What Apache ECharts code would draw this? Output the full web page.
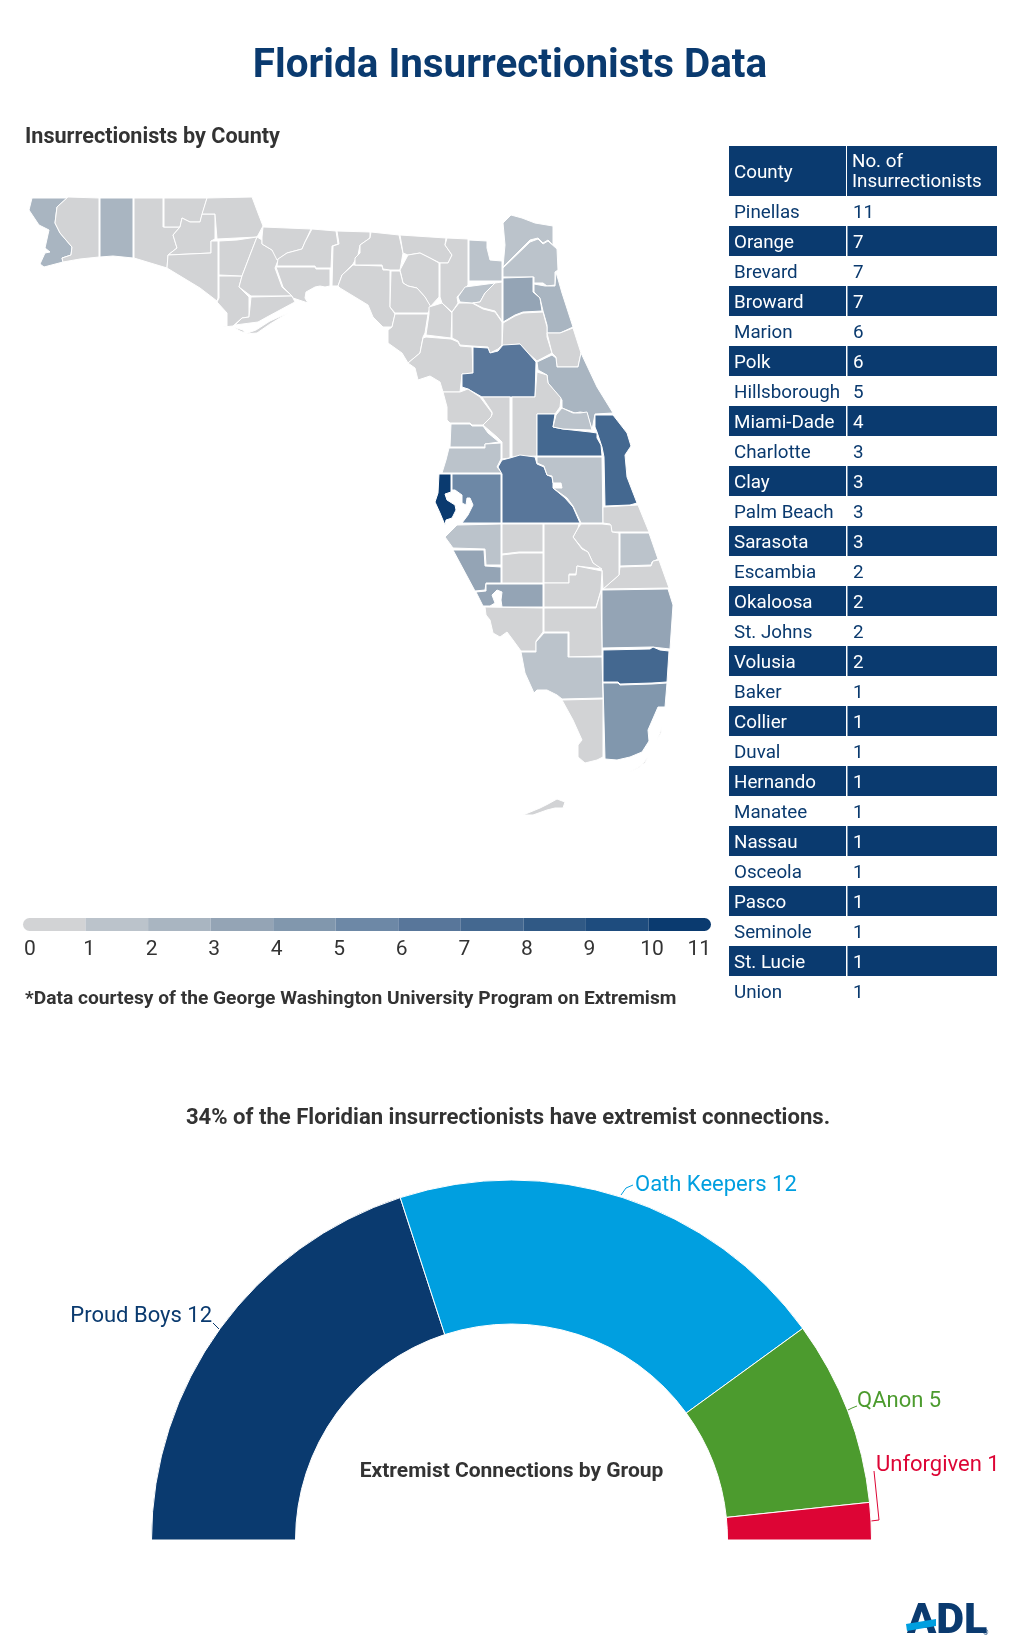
<!DOCTYPE html>
<html><head><meta charset="utf-8">
<style>html,body{margin:0;padding:0;background:#fff}#c{width:1020px;height:1650px}</style>
<script src="https://cdn.jsdelivr.net/npm/echarts@6/dist/echarts.min.js"></script></head>
<body><div id="c"></div>
<script>
const tableCounties=["Pinellas","Orange","Brevard","Broward","Marion","Polk","Hillsborough","Miami-Dade","Charlotte","Clay","Palm Beach","Sarasota","Escambia","Okaloosa","St. Johns","Volusia","Baker","Collier","Duval","Hernando","Manatee","Nassau","Osceola","Pasco","Seminole","St. Lucie","Union"];
const tableValues=[11,7,7,7,6,6,5,4,3,3,3,3,2,2,2,2,1,1,1,1,1,1,1,1,1,1,1];
const scaleTicks=[0,1,2,3,4,5,6,7,8,9,10,11];
const scaleColors=["#d2d3d5","#bbc3cb","#a9b5c1","#94a4b5","#8197ad","#6d88a6","#58769a","#446890","#305985","#1e4c7e","#0a3a6f"];
const groupNames=["Proud Boys","Oath Keepers","QAnon","Unforgiven"];
const groupValues=[12,12,5,1];
const groupColors=["#0a3a6f","#009fe0","#4c9b2e","#dd0535"];

// County outlines, TopoJSON style: integer coordinates + transform back to lon/lat.
const mapTransform={scale:[0.011806,-0.010373],translate:[-87.978,33.04]};
const countyShapes={
"Escambia":[[32,198,67,198,57,207,55,223,60,233,72,247,71,255,62,258,63,262,44,267,40,264,45,253,50,252,45,248,49,230,39,225,29,210]],
"Santa Rosa":[[68,197,99,198,99,257,80,259,63,262,62,258,71,255,72,247,60,233,55,223,57,207]],
"Okaloosa":[[100,198,133,198,133,258,113,256,100,257]],
"Walton":[[134,198,163,198,163,227,180,227,173,235,177,248,168,255,167,268,134,258]],
"Holmes":[[164,198,207,198,200,222,190,222,182,218,180,227,164,227]],
"Washington":[[182,218,190,222,200,222,202,214,215,214,215,239,211,241,211,253,168,255,177,248,173,235,180,227]],
"Jackson":[[207,198,252,197,258,213,263,226,257,237,237,238,217,239,215,214,202,214]],
"Bay":[[168,255,211,253,211,241,218,241,218,298,217,301,200,288,167,268]],
"Gulf":[[219,276,242,276,239,287,249,297,249,317,242,318,233,326,223,327,227,327,227,313,217,302,219,298],[233,327,243,330,245,333,240,331]],
"Calhoun":[[219,241,237,240,257,237,250,255,242,276,219,275]],
"Liberty":[[257,237,262,240,262,244,272,250,279,258,275,268,282,287,292,296,251,296,239,287,242,276,250,255]],
"Franklin":[[251,297,292,296,295,302,293,303,267,317,258,322,235,325,242,318,249,317],[288,313,270,324,257,333,245,334,256,330,270,321]],
"Gadsden":[[263,227,311,229,305,242,302,249,287,253,277,260,272,250,262,244,262,237]],
"Leon":[[312,229,336,231,338,244,332,246,331,268,316,268,315,266,277,266,278,259,287,253,302,249,305,242]],
"Wakulla":[[276,267,315,267,316,269,330,269,330,286,325,287,320,286,315,287,306,292,305,298,308,303,293,298,292,296,283,287]],
"Jefferson":[[337,231,370,232,370,238,360,245,358,255,353,264,342,275,338,286,332,286,333,246,339,244]],
"Taylor":[[353,265,382,266,383,270,390,270,390,307,395,314,392,327,383,327,373,317,368,305,340,288,338,286,342,275]],
"Madison":[[371,232,399,235,403,253,400,270,390,270,383,269,382,265,355,265,355,258,360,253,360,245,370,238]],
"Hamilton":[[400,235,446,238,445,245,452,255,448,263,440,263,430,258,420,253,408,255,403,253]],
"Suwannee":[[408,255,420,253,430,258,439,263,439,297,430,307,425,297,417,288,408,286,403,283,400,270]],
"Lafayette":[[391,271,400,271,403,283,408,286,417,288,425,297,431,307,428,313,395,313,390,307]],
"Dixie":[[395,314,428,314,425,333,423,337,420,353,408,363,402,353,388,343,388,330,392,327]],
"Columbia":[[447,238,468,239,468,285,457,297,458,303,452,312,442,303,440,297,440,263,448,263,452,255,445,245]],
"Gilchrist":[[442,303,452,313,451,338,426,335,429,314,429,307]],
"Levy":[[426,337,451,339,458,342,460,346,472,347,473,373,462,374,460,392,443,392,440,382,430,376,418,380,415,368,408,363,420,353,423,338]],
"Alachua":[[452,312,459,303,472,303,483,309,495,312,502,322,502,345,498,349,490,353,488,347,472,346,460,345,458,341,452,338]],
"Union":[[458,297,465,287,495,283,485,293,480,302,472,303,460,302]],
"Baker":[[469,240,487,241,487,248,490,260,502,261,502,281,469,281]],
"Bradford":[[495,283,502,282,502,321,495,311,483,308,473,303,480,302,485,293]],
"Nassau":[[503,223,511,215,522,218,535,223,553,226,553,245,548,240,543,243,538,238,530,240,503,267,505,245]],
"Duval":[[503,268,530,242,538,239,543,244,548,241,557,249,558,270,555,272,555,285,547,286,543,283,534,283,534,277,503,277]],
"Clay":[[503,278,533,277,533,292,540,298,542,311,523,312,515,315,503,322]],
"St. Johns":[[534,284,545,286,555,286,556,272,562,293,573,327,560,333,547,333,547,325,543,311,540,298,534,292]],
"Putnam":[[503,323,515,316,523,313,543,312,547,327,547,337,552,353,537,361,528,353,520,344,510,345,502,348]],
"Flagler":[[547,333,560,333,573,328,581,353,578,367,557,367,556,357,552,353]],
"Marion":[[473,347,488,348,490,353,498,351,503,345,520,344,528,353,536,362,535,397,482,397,468,389,462,387,462,374,473,373]],
"Volusia":[[537,362,552,355,556,358,557,367,578,367,581,353,597,387,613,413,595,414,592,430,587,413,580,412,575,413,562,408,562,400,548,383,547,375,538,370]],
"Lake":[[537,372,547,375,548,383,561,398,560,407,555,414,537,414,537,456,512,457,512,397,535,397]],
"Sumter":[[482,397,510,397,510,458,502,459,502,442,497,437,483,425,492,415,492,412]],
"Citrus":[[443,392,460,392,468,389,480,397,492,413,491,417,483,425,472,425,470,423,450,423,447,420,447,407]],
"Hernando":[[451,424,470,424,472,426,483,426,488,433,499,442,485,444,485,447,450,447]],
"Pasco":[[449,448,485,448,485,444,501,443,501,459,497,467,502,473,452,473,442,473,446,460]],
"Pinellas":[[439,474,451,474,451,492,445,494,447,500,455,505,456,510,452,518,446,520,445,525,440,513,435,502,438,493]],
"Hillsborough":[[452,474,501,474,501,523,462,523,468,515,473,505,470,498,467,498,466,505,462,503,462,495,455,490,452,490]],
"Polk":[[502,474,498,467,502,460,510,458,520,455,535,457,537,464,544,467,547,475,552,477,553,483,553,488,565,498,573,507,580,523,502,523]],
"Osceola":[[537,457,602,457,603,523,581,523,573,506,567,498,553,488,562,488,561,483,553,483,552,476,547,475,544,466,537,463]],
"Orange":[[537,414,555,414,553,427,563,429,590,432,597,433,597,438,601,445,602,456,537,456]],
"Seminole":[[556,415,562,408,573,413,580,413,587,412,592,430,563,429,553,427]],
"Brevard":[[595,415,613,415,627,433,631,446,625,455,627,477,637,503,630,505,605,506,604,457,602,447,599,438,597,432,595,427]],
"Indian River":[[603,507,638,505,649,532,612,532,610,524,603,523]],
"St. Lucie":[[620,533,649,533,658,559,652,562,651,565,620,566]],
"Martin":[[620,567,651,566,653,561,659,560,669,588,603,589,619,575]],
"Okeechobee":[[581,524,602,524,611,525,612,532,619,533,619,575,603,589,602,570,593,563,588,552,582,548,573,537,578,528]],
"Highlands":[[544,524,579,524,578,528,573,537,582,549,588,552,593,563,602,569,577,566,576,574,569,574,569,583,544,583]],
"Hardee":[[502,524,543,524,543,552,519,552,502,554]],
"DeSoto":[[502,555,519,553,543,553,543,583,502,583]],
"Manatee":[[445,537,457,525,501,524,501,565,486,565,485,549,453,548]],
"Sarasota":[[453,550,484,550,485,566,501,567,501,583,486,583,485,590,475,591]],
"Charlotte":[[476,592,486,591,486,584,543,584,543,607,502,607,501,600,502,592,497,590,492,595,495,603,490,606,483,606]],
"Glades":[[544,583,569,583,569,575,576,575,577,566,602,571,601,590,596,607,544,607]],
"Palm Beach":[[602,590,668,589,673,605,670,649,652,647,602,648]],
"Lee":[[485,607,543,608,543,632,536,641,536,651,521,651,513,640,507,632,500,637,493,633,490,620,486,615]],
"Hendry":[[544,608,596,608,601,591,602,648,602,656,569,657,569,632,544,632]],
"Collier":[[544,633,568,633,568,657,602,657,603,698,562,699,557,695,547,690,537,690,534,693,525,673,521,652,536,652,536,642]],
"Monroe":[[562,700,603,699,603,757,597,760,585,763,578,757,578,745,582,740,573,720],[523,815,540,808,548,804,557,799,565,802,563,808,555,808,547,810,533,815],[648,757,640,767,630,772,645,763],[662,727,657,740,661,733]],
"Miami-Dade":[[603,683,618,683,620,685,652,684,667,683,665,707,658,707,648,730,649,741,642,752,630,757,617,760,605,759]],
"Broward":[[603,650,650,649,653,647,660,650,669,651,667,682,652,683,620,684,618,682,603,682]]
};

const [sx,sy]=mapTransform.scale,[tx,ty]=mapTransform.translate;
const ring=a=>{const r=[];for(let i=0;i<a.length;i+=2)r.push([tx+a[i]*sx,ty+a[i+1]*sy]);r.push(r[0]);return r;};
const features=Object.keys(countyShapes).map(n=>({type:'Feature',properties:{name:n},geometry:{type:'MultiPolygon',coordinates:countyShapes[n].map(a=>[ring(a)])}}));
echarts.registerMap('florida',{type:'FeatureCollection',features});

const FONT='Roboto';
const NAVY='#0a3a6f',INK='#333333';
const lookup=Object.fromEntries(tableCounties.map((n,i)=>[n,tableValues[i]]));
const mapData=Object.keys(countyShapes).map(n=>({name:n,value:lookup[n]||0}));

const txt=(x,y,text,size,weight,color,align)=>({type:'text',x,y,silent:true,style:{text,font:`${weight} ${size}px ${FONT}`,fill:color,textAlign:align||'left',textVerticalAlign:'middle'}});

const labelSpots=[
 {x:212,y:1316,align:'right',line:[[220,1330],[215,1325],[213,1323]]},
 {x:635,y:1185,align:'left',line:[[621,1195],[626,1188],[633,1185]]},
 {x:857,y:1401,align:'left',line:[[848,1410],[852,1408],[857,1406]]},
 {x:876,y:1465,align:'left',line:[[871,1521],[879,1520],[874,1471]]}
];

const chart=echarts.init(document.getElementById('c'),null,{renderer:'canvas'});
const segSeries=scaleColors.map((c,i)=>({type:'bar',stack:'s',xAxisIndex:0,yAxisIndex:0,barWidth:13,silent:true,
  data:[scaleTicks[i+1]-scaleTicks[i]],
  itemStyle:{color:c,borderRadius:i===0?[6.5,0,0,6.5]:i===scaleColors.length-1?[0,6.5,6.5,0]:0}}));

chart.setOption({
 animation:false,
 backgroundColor:'#ffffff',
 visualMap:{show:false,type:'piecewise',seriesIndex:0,
  pieces:scaleColors.map((c,i)=>({min:i,max:i+0.99,color:c})).concat([{min:11,max:11,color:scaleColors[10]}])},
 title:{text:'Florida Insurrectionists Data',left:'center',top:42,textStyle:{fontFamily:FONT,fontWeight:700,fontSize:40.4,color:NAVY}},
 grid:[{left:23,top:914,width:688,height:21,containLabel:false},{left:729,top:196,width:268,height:810}],
 xAxis:[{type:'value',gridIndex:0,min:0,max:11,interval:1,axisLine:{show:false},axisTick:{show:false},splitLine:{show:false},
   axisLabel:{fontFamily:FONT,fontSize:21,color:INK,margin:4,alignMinLabel:'left',alignMaxLabel:'right',
    formatter:v=>(v===0||v===11)?`{e|${v}}`:`{m|${v}}`,
    rich:{e:{fontFamily:FONT,fontSize:21,color:INK,padding:[0,0,0,1]},m:{fontFamily:FONT,fontSize:21,color:INK,padding:[0,0,0,7]}}}},
  {type:'value',gridIndex:1,min:0,max:1,show:false}],
 yAxis:[{type:'category',gridIndex:0,data:['scale'],show:false},
  {type:'category',gridIndex:1,inverse:true,data:tableCounties,show:false}],
 series:[
  {type:'map',map:'florida',left:29,top:197,width:644,height:618,aspectScale:0.8786,silent:true,roam:false,
   label:{show:false},itemStyle:{borderColor:'#ffffff',borderWidth:1},emphasis:{disabled:true},select:{disabled:true},data:mapData},
  ...segSeries,
  {type:'custom',xAxisIndex:1,yAxisIndex:1,silent:true,clip:false,encode:{y:0,x:2},
   data:tableCounties.map((n,i)=>[n,tableValues[i],0]),
   renderItem(params,api){
    const i=params.dataIndex,cs=params.coordSys,h=api.size([0,1])[1];
    const top=api.coord([0,i])[1]-h/2,striped=i%2===1,split=117;
    const color=striped?'#ffffff':NAVY,kids=[];
    if(striped){kids.push({type:'rect',shape:{x:cs.x,y:top,width:split,height:h},style:{fill:NAVY}},
      {type:'rect',shape:{x:cs.x+split+1.5,y:top,width:cs.width-split-1.5,height:h},style:{fill:NAVY}});}
    kids.push({type:'text',x:cs.x+5,y:top+h/2+2,style:{text:tableCounties[i],font:`400 18.8px ${FONT}`,fill:color,textVerticalAlign:'middle'}},
      {type:'text',x:cs.x+124,y:top+h/2+2,style:{text:String(tableValues[i]),font:`400 18.8px ${FONT}`,fill:color,textVerticalAlign:'middle'}});
    return {type:'group',children:kids};
   }},
  {type:'pie',center:[511.5,1540],radius:[216,360],startAngle:180,endAngle:360,silent:true,avoidLabelOverlap:false,
   itemStyle:{borderColor:'#ffffff',borderWidth:1},
   label:{show:true,formatter:'{b} {c}',fontFamily:FONT,fontSize:22,color:'inherit'},
   labelLine:{show:true,smooth:false,length:8,length2:6,lineStyle:{width:1}},
   labelLayout(p){const s=labelSpots[p.dataIndex];return {x:s.x,y:s.y,align:s.align,verticalAlign:'middle',labelLinePoints:s.line};},
   data:groupNames.map((n,i)=>({name:n,value:groupValues[i],itemStyle:{color:groupColors[i]},label:{color:groupColors[i]},labelLine:{lineStyle:{color:groupColors[i]}}}))}
 ],
 graphic:[
  txt(25,138,'Insurrectionists by County',21.6,700,INK),
  txt(25,999,'*Data courtesy of the George Washington University Program on Extremism',19.2,700,INK),
  txt(508,1118,'34% of the Floridian insurrectionists have extremist connections.',22.1,700,INK,'center'),
  txt(511.5,1472,'Extremist Connections by Group',21,700,INK,'center'),
  {type:'rect',silent:true,shape:{x:729,y:146,width:117,height:50},style:{fill:NAVY}},
  {type:'rect',silent:true,shape:{x:847,y:146,width:150,height:50},style:{fill:NAVY}},
  txt(734,173,'County',18.8,400,'#ffffff'),
  txt(852,162,'No. of',18.8,400,'#ffffff'),
  txt(852,182,'Insurrectionists',18.8,400,'#ffffff'),
  txt(907,1622,'ADL',43,900,NAVY),
  {type:'polygon',silent:true,shape:{points:[[906,1624],[936,1619],[936,1626],[907,1631]]},style:{fill:'#009fe0'}},
  txt(983,1633,'®',7,400,NAVY)
 ]
});
</script></body></html>
